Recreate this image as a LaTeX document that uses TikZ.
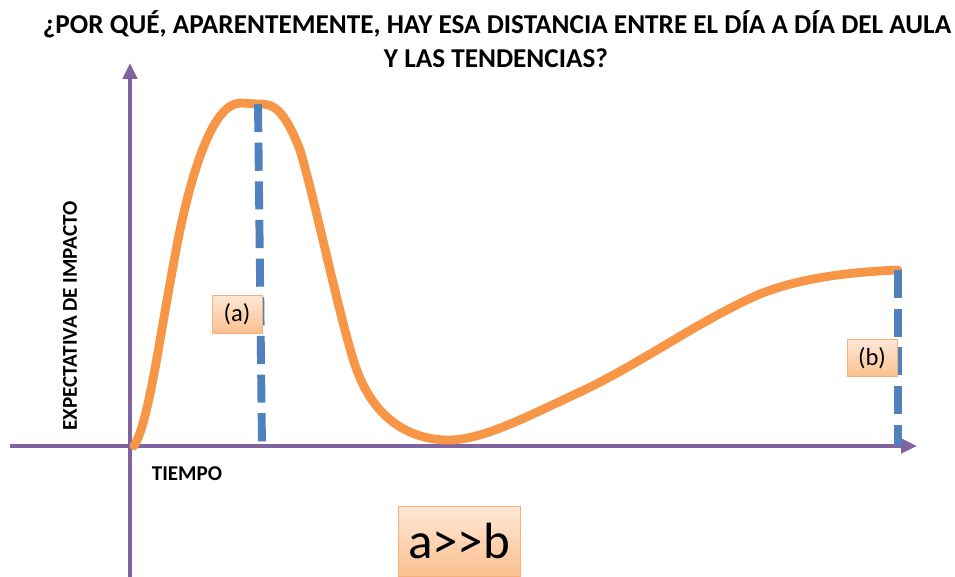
\documentclass[tikz,border=0pt]{standalone}
\usepackage{fontspec}
\setmainfont{Carlito}
\usetikzlibrary{arrows.meta}

\definecolor{axis}{HTML}{8064A2}
\definecolor{hype}{HTML}{F79646}
\definecolor{mark}{HTML}{4F81BD}
\definecolor{boxtop}{HTML}{FEE8D8}
\definecolor{boxbot}{HTML}{FBC08F}
\definecolor{boxline}{HTML}{F7B07A}

\begin{document}
\begin{tikzpicture}[x=0.02cm, y=-0.02cm,
  axisline/.style={draw=axis, line width=2.2pt, -{Triangle[length=9pt, width=8pt]}},
  hypeline/.style={draw=hype, line width=5pt, line cap=round, line join=round},
  markline/.style={draw=mark, line width=4.5pt, dash pattern=on 16pt off 6pt},
  labelbox/.style={draw=boxline, line width=0.4pt, top color=boxtop, bottom color=boxbot, inner sep=0pt}
]

\useasboundingbox (0,0) rectangle (955,577);

% Title
\node (title1) at (497,24) [font=\bfseries\fontsize{15.5}{17}\selectfont] {¿POR QUÉ, APARENTEMENTE, HAY ESA DISTANCIA ENTRE EL DÍA A DÍA DEL AULA};
\node (title2) at (496,58) [font=\bfseries\fontsize{15.5}{17}\selectfont] {Y LAS TENDENCIAS?};

% Axes
\coordinate (origin) at (130,446);
\coordinate (ybottom) at (130,577);
\coordinate (ytop) at (130,63);
\coordinate (xleft) at (10,446);
\coordinate (xright) at (917,446);
\draw [axisline] (ybottom) -- (ytop);
\draw [axisline] (xleft) -- (xright);

% Axis labels
\node (ylabel) at (70,316) [rotate=90, font=\bfseries\fontsize{12}{14}\selectfont] {EXPECTATIVA DE IMPACTO};
\node (xlabel) at (187,474) [font=\bfseries\fontsize{12}{14}\selectfont] {TIEMPO};

% Curve
\coordinate (peak) at (258,104);
\coordinate (tail) at (898,270);
\draw [hypeline] (134,446) .. controls (150,420) and (160,330) .. (180,230)
  .. controls (195,160) and (215,104) .. (240,103)
  -- (peak) .. controls (275,103) and (285,112) .. (300,150)
  .. controls (315,200) and (340,320) .. (355,365)
  .. controls (370,410) and (400,438) .. (445,440)
  .. controls (480,441) and (520,420) .. (580,392)
  .. controls (640,364) and (700,320) .. (760,294)
  .. controls (800,278) and (850,272) .. (tail);

% Dashed marks
\coordinate (peakbase) at (262,446);
\coordinate (tailbase) at (898,446);
\draw [markline] (peak) -- (peakbase);
\draw [markline] (tail) -- (tailbase);

% Labels
\node (labela) at (237,314) [labelbox, minimum width=1.0cm, minimum height=0.76cm, font=\fontsize{14}{16}\selectfont] {(a)};
\node (labelb) at (872,358) [labelbox, minimum width=1.0cm, minimum height=0.74cm, font=\fontsize{14}{16}\selectfont] {(b)};
\node (result) at (459,541) [labelbox, minimum width=2.44cm, minimum height=1.4cm, font=\fontsize{29}{32}\selectfont] {a>{}>b};

\end{tikzpicture}
\end{document}
